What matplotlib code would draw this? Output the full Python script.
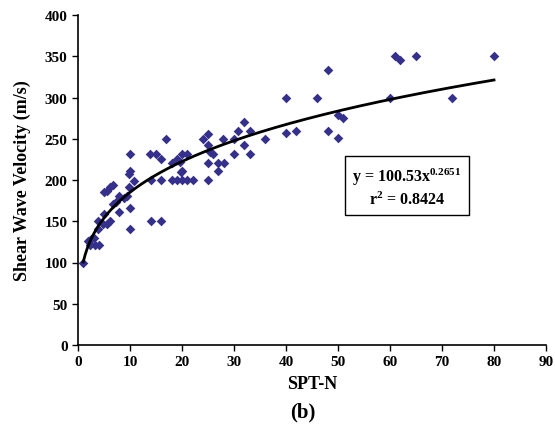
import numpy as np
import matplotlib
matplotlib.use("Agg")
import matplotlib.pyplot as plt

# SPT-N vs shear wave velocity
spt_n = [1, 2, 2.5, 3, 2.3, 3.3, 4, 3.8, 3.9, 5, 4.8, 5.5, 6.2, 5, 5.5, 6.2, 6.8,
         7.8, 7.4, 6.7, 7.9, 8.9, 9.4, 9.8, 10, 10.8, 10, 10, 9.8, 10,
         14, 16, 14, 16, 18, 19, 20, 21, 22.2, 19.9, 17, 13.8, 15, 16,
         18, 19, 20, 21, 20, 19.6, 24, 25, 25, 25.4, 26, 25, 27, 28, 27, 25,
         27.8, 30, 30, 30.8, 32, 33, 32, 33, 36,
         40, 46, 48, 61, 62, 65, 80, 60, 72, 40, 42, 48, 50, 51, 50]
vs = [100, 126, 128, 130, 121, 121, 121, 150, 141, 159, 147, 147, 150, 186, 187, 191, 194,
      181, 173, 171, 161, 178, 181, 207, 211, 199, 166, 141, 191, 231,
      150, 150, 200, 200, 200, 200, 200, 200, 200, 210, 250, 231, 231, 225,
      221, 225, 231, 231, 211, 222, 250, 256, 242, 234, 231, 221, 221, 221, 211, 200,
      250, 231, 250, 260, 270, 260, 242, 231, 250,
      300, 300, 333, 350, 345, 350, 350, 300, 300, 257, 259, 260, 279, 275, 251]

# power-law fit shown on the chart
fit_a, fit_b = 100.53, 0.2651
fit_x = np.linspace(1, 80, 200)

plt.rcParams["font.family"] = ["Liberation Serif", "DejaVu Serif"]
plt.rcParams["font.weight"] = "bold"
plt.rcParams["mathtext.fontset"] = "custom"
plt.rcParams["mathtext.rm"] = "Liberation Serif:bold"
plt.rcParams["mathtext.bf"] = "Liberation Serif:bold"
plt.rcParams["mathtext.it"] = "Liberation Serif:bold"

fig = plt.figure(figsize=(5.55, 4.31), dpi=100)
ax = fig.add_axes([78 / 555, 1 - 346 / 431, 468 / 555, 330 / 431])

ax.scatter(spt_n, vs, marker="D", s=24, color="#35308c", linewidths=0, zorder=3)
ax.plot(fit_x, fit_a * fit_x ** fit_b, color="black", linewidth=2, zorder=4)

ax.set_xlim(0, 90)
ax.set_ylim(0, 400)
ax.set_xticks(range(0, 91, 10))
ax.set_yticks(range(0, 401, 50))
ax.tick_params(direction="out", length=4, width=1, labelsize=11)
for lab in ax.get_xticklabels() + ax.get_yticklabels():
    lab.set_fontweight("bold")
ax.spines["top"].set_visible(False)
ax.spines["right"].set_visible(False)
for s in ("left", "bottom"):
    ax.spines[s].set_linewidth(1.2)

ax.set_ylabel("Shear Wave Velocity (m/s)", fontsize=13, fontweight="bold", labelpad=10)
ax.set_xlabel("SPT-N", fontsize=13, fontweight="bold", labelpad=5)
fig.text(303 / 555, 1 - 412 / 431, "(b)", fontsize=15, fontweight="bold",
         ha="center", va="center")

ax.text(0.703, 0.479, "y = 100.53x$^{\\mathrm{0.2651}}$\nr$^{\\mathrm{2}}$ = 0.8424",
        transform=ax.transAxes, ha="center", va="center", fontsize=11.5,
        fontweight="bold", linespacing=1.3,
        bbox=dict(boxstyle="square,pad=0.45", facecolor="white",
                  edgecolor="black", linewidth=1))

fig.savefig("out.png", dpi=100)
